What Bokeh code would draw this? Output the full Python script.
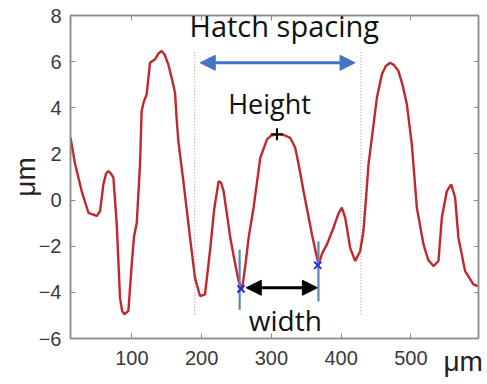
import numpy as np
from bokeh.plotting import figure
from bokeh.models import (FixedTicker, LinearAxis, Label, Arrow, NormalHead, Range1d,
                          CustomJSTickFormatter)
from bokeh.core.properties import value
from bokeh.embed import file_html
from bokeh.resources import INLINE

# ---- data ----
x_um = [12, 18.6, 28, 37.7, 49.6, 54.4, 59.2, 63, 66.3, 70, 73.5, 78.3, 83, 86, 89.3, 95,
        99.8, 103, 107, 111.7, 114, 117, 121.2, 126, 133.2, 138, 142.7, 147, 152.3, 157,
        161.9, 164, 166.6, 173.8, 183.4, 190.5, 197.7, 204.9, 212.5, 218, 224.4, 228,
        231.5, 241.1, 247, 253, 257.9, 262, 267.4, 274.5, 284.1, 293.7, 300, 308, 318,
        327, 334.2, 340, 346.1, 358.2, 364, 367.6, 373, 379.7, 389.1, 396, 401.1, 405.9,
        413, 420.2, 427.4, 432, 435.5, 439.3, 444.1, 451.3, 458.5, 464, 470.3, 476,
        482.2, 488, 494.3, 501.4, 508.6, 518.1, 525, 532.4, 539.6, 544.4, 551.6, 557.8,
        563.5, 568.2, 577.8, 589.7, 596]
h_um = [2.7, 1.56, 0.39, -0.55, -0.69, -0.48, 0.69, 1.15, 1.26, 1.15, 0.97, -1.05, -4.23,
        -4.8, -4.95, -4.8, -2.78, -1.6, -0.98, 1.55, 3.86, 4.25, 4.58, 5.95, 6.1, 6.35,
        6.46, 6.3, 5.88, 5.3, 4.65, 3.6, 2.56, 0.82, -1.63, -3.37, -4.16, -4.09, -2.07,
        -0.4, 0.82, 0.75, 0.39, -1.63, -2.6, -3.51, -3.87, -3.0, -1.63, -0.33, 1.83,
        2.63, 2.8, 2.85, 2.82, 2.7, 2.27, 1.4, 0.39, -1.49, -2.3, -2.78, -2.3, -1.92,
        -1.2, -0.6, -0.33, -0.77, -2.07, -2.64, -2.21, -1.34, 0.0, 1.55, 2.7, 4.43,
        5.45, 5.8, 5.95, 5.85, 5.59, 5.0, 4.15, 2.41, -0.33, -1.92, -2.6, -2.86, -2.64,
        -0.77, 0.39, 0.68, 0.1, -1.63, -3.08, -3.65, -3.73]

x_ticks = [100, 200, 300, 400, 500]
y_ticks = [-6, -4, -2, 0, 2, 4, 6, 8]

hatch_lines_x = [190, 428.4]
hatch_lines_y = [-4.95, 6.47]
hatch_arrow_x = [198, 420]
hatch_arrow_y = 5.95

peak_x = [308]
peak_y = [2.85]

width_pts_x = [256.5, 366.5]
width_pts_y = [-3.85, -2.83]
width_bars_x = [254.5, 367.5]
width_bars_y0 = [-2.15, -1.8]
width_bars_y1 = [-4.75, -4.4]
width_arrow_x = [264, 366]
width_arrow_y = -3.8

p = figure(width=487, height=384, x_range=Range1d(12, 597), y_range=Range1d(-6, 8),
           output_backend="svg", toolbar_location=None,
           min_border_left=70, min_border_right=9, min_border_top=15, min_border_bottom=46)
p.background_fill_color = "white"
p.border_fill_color = "white"
p.xgrid.visible = False
p.ygrid.visible = False
p.outline_line_color = "#8c8c8c"
p.outline_line_width = 1.5

axcol = "#8c8c8c"
for ax in [p.xaxis[0], p.yaxis[0]]:
    ax.axis_line_color = axcol
    ax.axis_line_width = 1.5
    ax.major_tick_line_color = axcol
    ax.major_tick_in = 5
    ax.major_tick_out = 0
    ax.minor_tick_line_color = None
    ax.major_label_text_font = "Liberation Sans"
    ax.major_label_text_font_size = "20px"
    ax.major_label_text_color = "#3a3a3a"
p.xaxis[0].ticker = FixedTicker(ticks=x_ticks)
p.yaxis[0].ticker = FixedTicker(ticks=y_ticks)
p.xaxis[0].major_label_standoff = 12
p.yaxis[0].major_label_standoff = 9
p.yaxis[0].axis_label = "μm"
p.yaxis[0].axis_label_text_font = "Liberation Sans"
p.yaxis[0].axis_label_text_font_size = "28px"
p.yaxis[0].axis_label_text_font_style = "normal"
p.yaxis[0].axis_label_text_color = "#222222"
p.yaxis[0].axis_label_standoff = -5

blank = CustomJSTickFormatter(code="return ''")
top = LinearAxis(ticker=FixedTicker(ticks=x_ticks), formatter=blank)
right = LinearAxis(ticker=FixedTicker(ticks=y_ticks), formatter=blank)
for ax in [top, right]:
    ax.axis_line_color = axcol
    ax.axis_line_width = 1.5
    ax.major_tick_line_color = axcol
    ax.major_tick_in = 5
    ax.major_tick_out = 0
    ax.minor_tick_line_color = None
    ax.major_label_standoff = 0
p.add_layout(top, "above")
p.add_layout(right, "right")

# dotted hatch lines
for hx in hatch_lines_x:
    p.line([hx, hx], hatch_lines_y, line_color="#a8a8a8", line_width=1.2, line_dash="1 2")

# profile
p.line(x_um, h_um, line_color="#c0282e", line_width=2.4)

# width bars and markers
p.segment(x0=width_bars_x, y0=width_bars_y0, x1=width_bars_x, y1=width_bars_y1,
          line_color="#5a86b4", line_width=2.2)
p.scatter(width_pts_x, width_pts_y, marker="x", size=10, line_color="#2a2ae0", line_width=2)
p.scatter(peak_x, peak_y, marker="cross", size=12, line_color="black", line_width=2)

# arrows
p.add_layout(Arrow(start=NormalHead(size=15, fill_color="#4472c4", line_color="#4472c4"),
                   end=NormalHead(size=15, fill_color="#4472c4", line_color="#4472c4"),
                   x_start=hatch_arrow_x[0], x_end=hatch_arrow_x[1],
                   y_start=hatch_arrow_y, y_end=hatch_arrow_y,
                   line_color="#4472c4", line_width=3))
p.add_layout(Arrow(start=NormalHead(size=15, fill_color="black", line_color="black"),
                   end=NormalHead(size=15, fill_color="black", line_color="black"),
                   x_start=width_arrow_x[0], x_end=width_arrow_x[1],
                   y_start=width_arrow_y, y_end=width_arrow_y,
                   line_color="black", line_width=3))

# annotation texts
def lab(x, y, t, size, font="Open Sans", color="#111111"):
    p.add_layout(Label(x=x, y=y, text=t, text_font=font, text_font_size=size,
                       text_align="center", text_baseline="alphabetic",
                       text_color=color))

lab(318.5, 7.56, "Hatch spacing", "29px")
lab(297.4, 4.18, "Height", "27px")
lab(320, -5.2, "width", "28px")

p.text(x=[575], y=[-6.98], text=["μm"], text_font=value("Liberation Sans"),
       text_font_size="28px", text_align="center", text_baseline="alphabetic",
       text_color="#222222", level="overlay")

open("out.html", "w").write(file_html(p, INLINE))
